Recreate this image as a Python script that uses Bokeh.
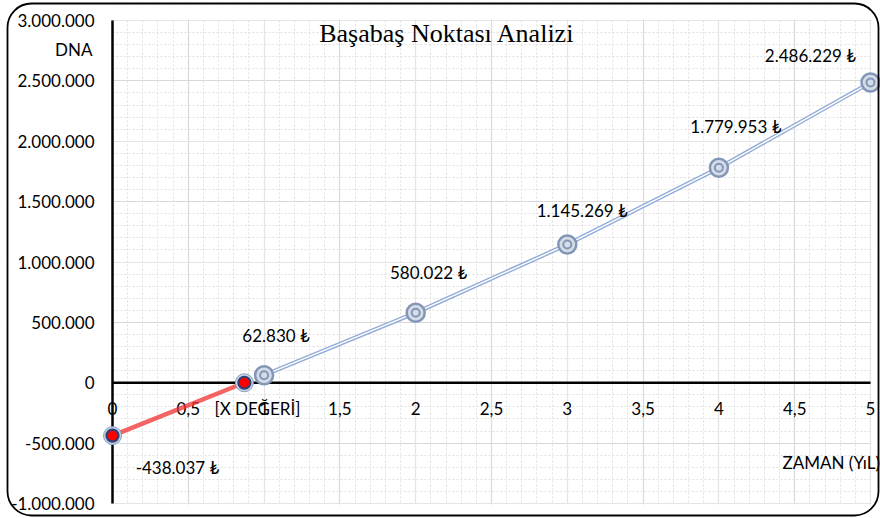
from bokeh.plotting import figure
from bokeh.models import (Range1d, SingleIntervalTicker, Grid, BoxAnnotation, Label,
                          ColumnDataSource)
from bokeh.core.properties import value
from bokeh.embed import file_html
from bokeh.resources import INLINE

# ---- data ----
years = [1, 2, 3, 4, 5]
npv = [62830, 580022, 1145269, 1779953, 2486229]
be_x = [0, 0.87]
be_y = [-438037, 0]
be_text = ["-438.037 ₺", "[X DEĞERİ]"]
x_ticks = [0, 0.5, 1, 1.5, 2, 2.5, 3, 3.5, 4, 4.5, 5]
x_tick_labels = ["0", "0,5", "1", "1,5", "2", "2,5", "3", "3,5", "4", "4,5", "5"]
y_ticks = [-1000000, -500000, 0, 500000, 1000000, 1500000, 2000000, 2500000, 3000000]
y_tick_labels = ["-1.000.000", "-500.000", "0", "500.000", "1.000.000",
                 "1.500.000", "2.000.000", "2.500.000", "3.000.000"]
title_text = "Başabaş Noktası Analizi"
y_title = "DNA"
x_title = "ZAMAN (YıL)"


def tl(v):
    return f"{v:,}".replace(",", ".") + " ₺"


npv_text = [tl(v) for v in npv]
# label offsets in pixels (styles)
npv_dx = [12, 13, 15, 17, -60]
npv_dy = [-40, -40, -34, -41, -27]
be_dx = [65, 13]
be_dy = [32, 26]

FONT = "Lato"
FS = "17px"

W, H = 880, 518
# the frame covers the whole canvas; ranges chosen so that x=0..5 spans 112..870 px
# and y=-1e6..3e6 spans 503..20 px
x0_px, x5_px = 112, 870
y3_px, ym1_px = 20, 503
xu = (x5_px - x0_px) / 5.0
yu = (ym1_px - y3_px) / 4000000.0
ytop = (y3_px + 3000000 * yu) / yu
p = figure(width=W, height=H, output_backend="svg", toolbar_location=None,
           x_range=Range1d(-x0_px / xu, 5 + (W - x5_px) / xu),
           y_range=Range1d(-(H - (y3_px + 3000000 * yu)) / yu, ytop),
           x_axis_location=None, y_axis_location=None,
           min_border=0, min_border_left=0, min_border_right=0,
           min_border_top=0, min_border_bottom=0,
           background_fill_color="white", border_fill_color="white")
p.outline_line_color = None

# grids (restricted to the plot area by white covers)
xt = SingleIntervalTicker(interval=0.5, num_minor_ticks=5)
yt = SingleIntervalTicker(interval=500000, num_minor_ticks=5)
p.add_layout(Grid(dimension=0, ticker=xt, bounds=(x_ticks[0], x_ticks[-1]),
                  grid_line_color="#d9d9d9", grid_line_width=1.2,
                  minor_grid_line_color="#e0e0e0", minor_grid_line_dash="2 2",
                  level="image"), "center")
p.add_layout(Grid(dimension=1, ticker=yt, bounds=(y_ticks[0], y_ticks[-1]),
                  grid_line_color="#d9d9d9", grid_line_width=1.2,
                  minor_grid_line_color="#e0e0e0", minor_grid_line_dash="2 2",
                  level="image"), "center")
ex = 1.0 / xu
ey = 1.0 / yu
for kw in (dict(right=x_ticks[0] - ex), dict(left=x_ticks[-1] + ex),
           dict(bottom=y_ticks[-1] + ey), dict(top=y_ticks[0] - ey)):
    p.add_layout(BoxAnnotation(fill_color="white", fill_alpha=1, line_color=None,
                               level="underlay", **kw))

# chart border (rounded)
p.add_layout(BoxAnnotation(left=(7 - x0_px) / xu, right=5 + (878 - x5_px) / xu,
                           top=(y3_px + 3000000 * yu - 3) / yu,
                           bottom=(y3_px + 3000000 * yu - 515) / yu,
                           fill_alpha=0, line_color="black", line_alpha=1, line_width=1.8,
                           border_radius=24, level="overlay"))

# axis lines
p.segment(x0=[0], y0=[y_ticks[0]], x1=[0], y1=[y_ticks[-1]], line_color="black", line_width=2.5)
p.segment(x0=[x_ticks[0]], y0=[0], x1=[x_ticks[-1]], y1=[0], line_color="black", line_width=2.5)

# tick labels
p.text(x=[0] * len(y_ticks), y=y_ticks, text=y_tick_labels, x_offset=-18,
       text_align="right", text_baseline="middle", text_font=value(FONT),
       text_font_size=FS, text_color="black")
p.text(x=x_ticks, y=[0] * len(x_ticks), text=x_tick_labels, y_offset=26,
       text_align="center", text_baseline="middle", text_font=value(FONT),
       text_font_size=FS, text_color="black")

# axis titles
p.text(x=[0], y=[y_ticks[-1]], text=[y_title], x_offset=-20, y_offset=29,
       text_align="right", text_baseline="middle", text_font=value(FONT),
       text_font_size=FS, text_color="black")
p.text(x=[x_ticks[-1]], y=[0], text=[x_title], x_offset=-88, y_offset=80,
       text_align="left", text_baseline="middle", text_font=value(FONT),
       text_font_size=FS, text_color="black")

# blue series
src = ColumnDataSource(dict(x=years, y=npv, t=npv_text, dx=npv_dx, dy=npv_dy))
p.line("x", "y", source=src, line_color="#93acd6", line_width=4.2)
p.line("x", "y", source=src, line_color="white", line_width=1.4)
p.scatter("x", "y", source=src, size=18, fill_color="#d4dce8", line_color="#8396b6", line_width=2.5)
p.scatter("x", "y", source=src, size=8, fill_color="#d4dce8", line_color="#8396b6", line_width=2)

# red series
rsrc = ColumnDataSource(dict(x=be_x, y=be_y, t=be_text, dx=be_dx, dy=be_dy))
p.line("x", "y", source=rsrc, line_color="#f03030", line_alpha=0.75, line_width=4.5)
p.scatter("x", "y", source=rsrc, size=18, fill_color="#c8d2e2", line_color="#8aa0c0", line_width=1)
p.scatter("x", "y", source=rsrc, size=12, fill_color="#ff0000", line_color="#2a427a", line_width=2.2)

# data labels
for s in (src, rsrc):
    p.text("x", "y", text="t", source=s, x_offset="dx", y_offset="dy",
           text_align="center", text_baseline="middle", text_font=value(FONT),
           text_font_size=FS, text_color="black")

# title
p.add_layout(Label(x=(446.5 - x0_px) / xu, y=(382 - 33) / yu, text=title_text,
                   text_align="center", text_baseline="middle",
                   text_font="Liberation Serif", text_font_size="26px", text_color="black"))

open("out.html", "w").write(file_html(p, INLINE))
